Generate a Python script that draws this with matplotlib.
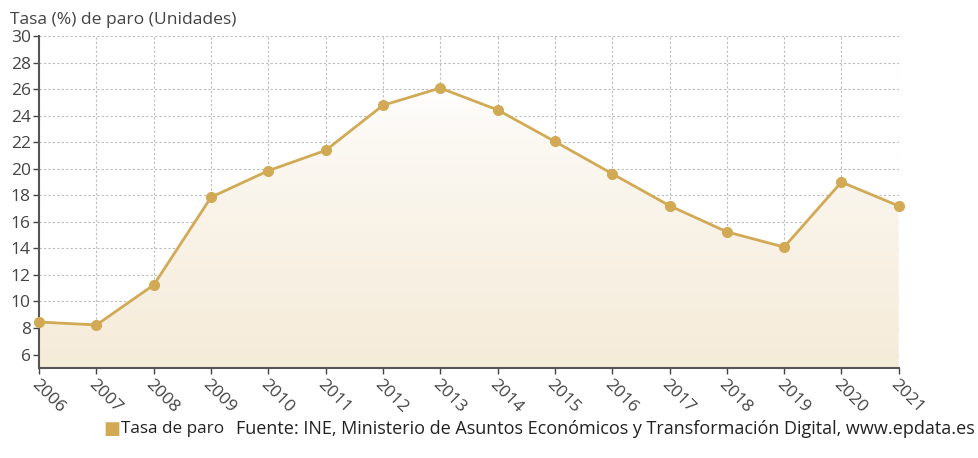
import numpy as np
import matplotlib
matplotlib.use("Agg")
import matplotlib.pyplot as plt
from matplotlib.patches import Polygon

plt.rcParams['font.family'] = ['Open Sans', 'DejaVu Sans']

# data
years = ['2006', '2007', '2008', '2009', '2010', '2011', '2012', '2013',
         '2014', '2015', '2016', '2017', '2018', '2019', '2020', '2021']
tasa_paro = [8.45, 8.23, 11.25, 17.86, 19.86, 21.39, 24.79, 26.09,
             24.44, 22.06, 19.63, 17.22, 15.25, 14.10, 19.0, 17.2]
y_ticks = [6, 8, 10, 12, 14, 16, 18, 20, 22, 24, 26, 28, 30]

line_color = '#d2aa55'
text_color = '#444444'

fig = plt.figure(figsize=(9.79, 4.58), dpi=100)
ax = fig.add_axes([0.040, 0.197, 0.878, 0.724])

x = np.arange(len(years))
ymin, ymax = 5, 30

# gradient fill under the line
grad = np.linspace(0, 1, 256).reshape(-1, 1) ** 0.7
c_top = np.array([1.0, 1.0, 1.0])
c_bot = np.array([0xf5, 0xeb, 0xd9]) / 255.0
img = c_top + (c_bot - c_top) * grad
img = img.reshape(256, 1, 3)
im = ax.imshow(img, extent=[x[0], x[-1], ymin, max(tasa_paro)], aspect='auto',
               origin='upper', zorder=1)
verts = [(x[0], ymin)] + list(zip(x, tasa_paro)) + [(x[-1], ymin)]
poly = Polygon(verts, closed=True, facecolor='none', edgecolor='none')
ax.add_patch(poly)
im.set_clip_path(poly)

ax.plot(x, tasa_paro, color=line_color, lw=2, marker='o', ms=7,
        zorder=3, clip_on=False)

ax.set_xlim(x[0], x[-1])
ax.set_ylim(ymin, ymax)
ax.set_yticks(y_ticks)
ax.set_xticks(x)
ax.set_xticklabels(years, rotation=-45, ha='left', va='top',
                   rotation_mode='anchor')
ax.tick_params(axis='both', colors=text_color, labelsize=12.5, length=4,
               width=1)
ax.tick_params(axis='x', pad=2)
ax.tick_params(axis='y', pad=2)

ax.grid(True, color='#bbbbbb', linestyle=(0, (2, 2)), lw=0.8, zorder=0)
ax.set_axisbelow(True)
for s in ['top', 'right']:
    ax.spines[s].set_visible(False)
ax.spines['left'].set_color('#555555')
ax.spines['bottom'].set_color('#555555')
ax.spines['left'].set_linewidth(1.5)
ax.spines['bottom'].set_linewidth(1.5)

fig.text(0.010, 0.957, 'Tasa (%) de paro (Unidades)', fontsize=12.6,
         color=text_color, va='center', ha='left')

# legend and source
fig.text(0.106, 0.064, '\u25a0', fontsize=13, color=line_color,
         va='center', ha='left')
fig.text(0.124, 0.063, 'Tasa de paro', fontsize=12.3, color='#222222',
         va='center', ha='left')
fig.text(0.996, 0.063,
         'Fuente: INE, Ministerio de Asuntos Económicos y Transformación Digital, www.epdata.es',
         fontsize=13, color='#222222', va='center', ha='right')

fig.savefig('out.png', dpi=100, facecolor='white')
